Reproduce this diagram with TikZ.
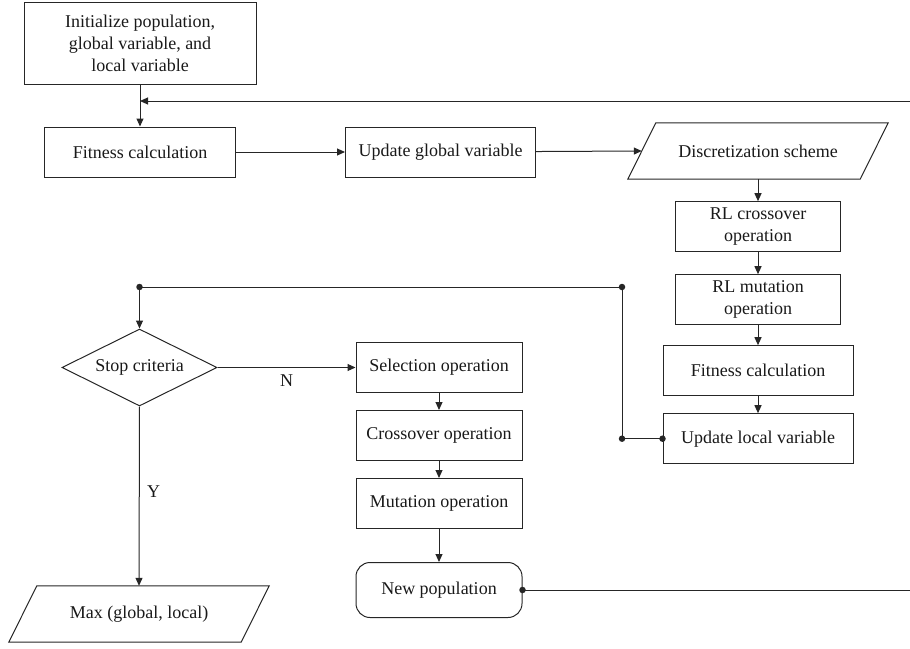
\documentclass[tikz,border=0pt]{standalone}
\usepackage{fontspec}
\setmainfont{Liberation Serif}
\usetikzlibrary{positioning, arrows.meta, shapes.geometric}

\newcommand{\slantbox}[1]{%
  \draw[link] ([xshift=14pt]#1.north west) -- ([xshift=14pt]#1.north east)
    -- ([xshift=-14pt]#1.south east) -- ([xshift=-14pt]#1.south west) -- cycle;}

\begin{document}
\begin{tikzpicture}[
    x=1pt, y=-1pt,
    node distance=17pt,
    every node/.style={font=\fontsize{18}{22}\selectfont, text=black!90},
    process/.style={rectangle, draw=black!85, line width=1pt, align=center, minimum height=50pt, inner sep=3pt},
    inout/.style={rectangle, minimum width=232pt, minimum height=56pt, inner sep=3pt},
    decision/.style={diamond, draw=black!85, line width=1pt, minimum width=155pt, minimum height=77pt, inner sep=0pt, aspect=2},
    terminal/.style={rectangle, rounded corners=14pt, draw=black!85, line width=1pt, minimum width=166pt, minimum height=55pt, inner sep=3pt},
    arrow/.style={-{Triangle[length=8pt, width=7pt]}, line width=1pt, draw=black!85},
    link/.style={line width=1pt, draw=black!85},
    dot/.style={circle, fill=black!85, inner sep=0pt, minimum size=6.5pt}
]
\useasboundingbox (0,0) rectangle (910,648);

% Main loop
\node[process, minimum width=232pt, minimum height=82pt] (init) at (140,43) {Initialize population,\\global variable, and\\local variable};
\node[process, minimum width=191pt, below=42pt of init] (fit1) {Fitness calculation};
\node[process, minimum width=190pt, right=109pt of fit1] (upglob) {Update global variable};
\node[inout] (disc) at (758,151) {Discretization scheme};
\slantbox{disc}

% Local search column
\node[process, minimum width=165pt, below=22pt of disc] (rlcross) {RL crossover\\operation};
\node[process, minimum width=165pt, below=22pt of rlcross] (rlmut) {RL mutation\\operation};
\node[process, minimum width=190pt, below=20pt of rlmut] (fit2) {Fitness calculation};
\node[process, minimum width=190pt, below=of fit2] (uploc) {Update local variable};

% Decision and genetic operators
\node[decision] (stop) at (139.5,367.5) {Stop criteria};
\node[process, minimum width=166pt, right=138pt of stop] (sel) {Selection operation};
\node[process, minimum width=166pt, below=of sel] (cross) {Crossover operation};
\node[process, minimum width=166pt, below=of cross] (mut) {Mutation operation};
\node[terminal, below=33pt of mut] (newpop) {New population};
\node[inout] (result) at (139,614) {Max (global, local)};
\slantbox{result}

% Junctions
\coordinate (jT) at (622,287);
\coordinate (jB) at (jT |- uploc.west);
\coordinate (jL) at (stop.north |- jT);
\coordinate (rimX) at (910,0);
\coordinate (rimTop) at (rimX |- 0,101);
\coordinate (rimLow) at (rimX |- newpop.east);

% Arrows
\draw[arrow] (init) -- (fit1);
\draw[arrow] (rimTop) -- (init.south |- rimTop);
\draw[arrow] (fit1) -- (upglob);
\draw[arrow] (upglob) -- (disc.west);
\draw[arrow] (disc.south) -- (rlcross);
\draw[arrow] (rlcross) -- (rlmut);
\draw[arrow] (rlmut) -- (fit2);
\draw[arrow] (fit2) -- (uploc);

\draw[link] (uploc.west) -- (jB) -- (jT) -- (jL);
\draw[arrow] (jL) -- (stop.north);
\node[dot] at (uploc.west) {};
\node[dot] at (jB) {};
\node[dot] at (jT) {};
\node[dot] at (jL) {};

\draw[arrow] (stop.east) -- node[below=3pt] {N} (sel.west);
\draw[arrow] (stop.south) -- node[right=4pt, yshift=5pt] {Y} (result.north);
\draw[arrow] (sel) -- (cross);
\draw[arrow] (cross) -- (mut);
\draw[arrow] (mut) -- (newpop);
\draw[link] (newpop.east) -- (rimLow);
\node[dot] at (newpop.east) {};

\end{tikzpicture}
\end{document}
